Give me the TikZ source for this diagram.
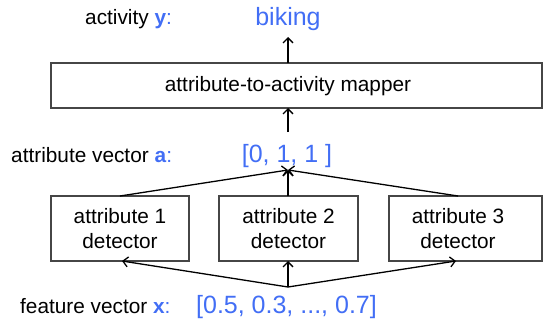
\documentclass[tikz,border=0pt]{standalone}
\usepackage{fontspec}
\setmainfont{Liberation Sans}
\usetikzlibrary{arrows.meta}
\definecolor{vblue}{RGB}{66,110,245}
\definecolor{boxline}{RGB}{70,70,70}
\tikzset{
  boxnode/.style={draw=boxline, line width=1.1pt, rectangle, inner sep=0pt, fill=white},
  normtext/.style={font=\fontsize{20.8}{25}\selectfont, inner sep=0pt},
  bigtext/.style={font=\fontsize{25}{30}\selectfont, inner sep=0pt, text=vblue},
  arr/.style={line width=1.3pt, -{Straight Barb[length=5pt,width=10pt,line width=1.3pt]}},
  plainline/.style={line width=1.3pt}
}
\begin{document}
\begin{tikzpicture}[x=1pt,y=-1pt]
\useasboundingbox (0,0) rectangle (543,329);
\clip (0,0) rectangle (543,329);

% labels on the left
\node[normtext, anchor=base west] (ylab) at (85,25) {activity \textcolor{vblue}{\textbf{y}:}};
\node[normtext, anchor=base west] (alab) at (11,162) {attribute vector \textcolor{vblue}{\textbf{a}:}};
\node[normtext, anchor=base west] (xlab) at (20,313) {feature vector \textcolor{vblue}{\textbf{x}:}};

% values
\node[bigtext, anchor=base] (y) at (288,26) {biking};
\node[bigtext, anchor=base] (a) at (287,162) {[0, 1, 1 ]};
\node[bigtext, anchor=base] (x) at (286.5,313) {[0.5, 0.3, ..., 0.7]};

% mapper
\node[boxnode, minimum width=491pt, minimum height=45pt,
      label={[normtext, xshift=-8.5pt, yshift=-1pt]center:attribute-to-activity mapper}]
      (mapper) at (296.5,85.5) {};

% detectors
\node[boxnode, minimum width=138pt, minimum height=65pt,
      label={[normtext, align=center]center:attribute 1\\detector}] (d1) at (120,228.5) {};
\node[boxnode, minimum width=139pt, minimum height=65pt,
      label={[normtext, align=center]center:attribute 2\\detector}] (d2) at (288.5,228.5) {};
\node[boxnode, minimum width=153pt, minimum height=65pt,
      label={[normtext, align=center, xshift=-7.5pt]center:attribute 3\\detector}] (d3) at (465.5,228.5) {};

% connection points
\coordinate (ytip) at (288,37);
\coordinate (mtop) at (288,63);
\coordinate (mbot) at (288,108);
\coordinate (afrom) at (288,132);
\coordinate (ajoin) at (288,170);
\coordinate (d1top) at (120,196);
\coordinate (d2top) at (288,196);
\coordinate (d3top) at (458,196);
\coordinate (xjoin) at (288,287);
\coordinate (d1bot) at (122,261);
\coordinate (d2bot) at (288,261);
\coordinate (d3bot) at (456,261);

% arrows
\draw[arr] (mtop) -- (ytip);
\draw[arr] (afrom) -- (mbot);
\draw[arr] (d1top) -- (ajoin);
\draw[arr] (d2top) -- (ajoin);
\draw[arr] (d3top) -- (ajoin);
\draw[arr] (xjoin) -- (d1bot);
\draw[arr] (xjoin) -- (d2bot);
\draw[arr] (xjoin) -- (d3bot);
\end{tikzpicture}
\end{document}
